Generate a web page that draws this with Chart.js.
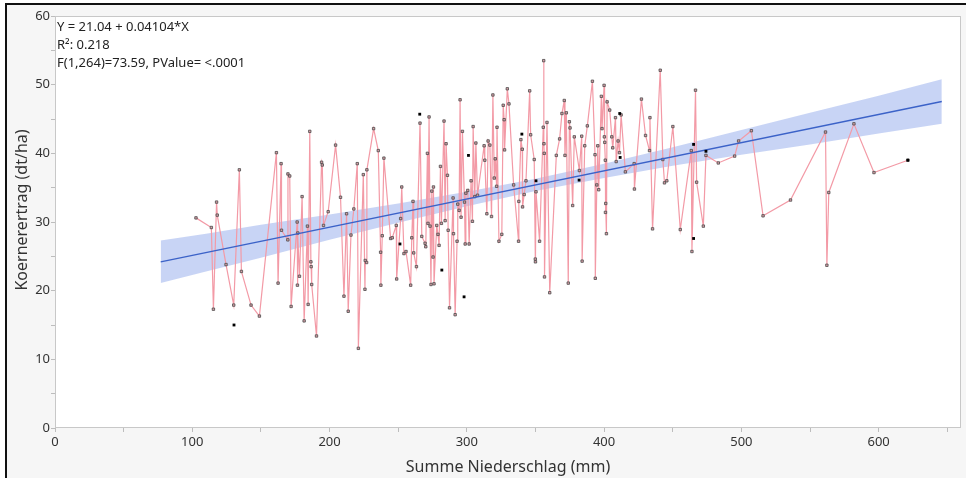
<!DOCTYPE html>
<html lang="de">
<head>
<meta charset="utf-8">
<title>Koernerertrag gegen Niederschlag</title>
<script src="https://cdn.jsdelivr.net/npm/chart.js@4.4.1/dist/chart.umd.min.js"></script>
<style>
  html, body { margin: 0; padding: 0; background: #ffffff; overflow: hidden; }
  #box { width: 966px; height: 478px; }
</style>
</head>
<body>
<div id="box"><canvas id="grafico" width="966" height="478"></canvas></div>
<script>
// Messwerte: Summe Niederschlag (mm) und Koernerertrag (dt/ha), nach X sortiert
var niederschlag = [
  102.7, 113.9, 115.4, 117.7, 118.2, 124.6, 130.2, 134.3, 135.8, 142.8,
  148.9, 161.3, 162.5, 164.7, 165.0, 169.6, 169.7, 171.0, 172.0, 176.4,
  176.6, 176.9, 178.1, 180.0, 181.5, 183.9, 184.4, 185.6, 186.4, 186.6,
  187.0, 190.5, 194.2, 194.7, 195.6, 199.0, 204.4, 208.0, 210.5, 212.4,
  213.6, 215.6, 217.7, 220.2, 221.0, 224.6, 225.8, 226.0, 227.0, 227.2,
  232.1, 235.5, 237.2, 237.4, 238.4, 239.6, 244.5, 245.7, 248.6, 248.9,
  251.8, 252.6, 254.2, 255.7, 259.1, 259.9, 260.8, 261.3, 263.3, 265.9,
  267.2, 269.6, 270.1, 271.3, 271.7, 272.5, 273.2, 273.9, 274.5, 275.4,
  275.7, 276.1, 278.1, 279.0, 279.8, 280.8, 281.5, 283.4, 284.2, 284.9,
  285.9, 286.4, 287.4, 290.0, 290.3, 291.5, 292.9, 293.4, 294.4, 295.1,
  295.8, 296.8, 298.3, 298.8, 299.3, 300.7, 301.7, 303.1, 304.1, 304.6,
  305.8, 306.6, 307.8, 312.6, 313.1, 314.6, 315.5, 316.8, 318.0, 319.0,
  320.0, 320.7, 321.7, 322.0, 323.4, 325.5, 326.5, 327.2, 327.5, 329.5,
  330.7, 334.1, 337.7, 337.9, 339.4, 340.4, 340.6, 341.8, 343.1, 345.8,
  346.5, 349.1, 349.9, 350.0, 350.4, 353.0, 355.7, 356.0, 356.2, 356.4,
  356.6, 358.4, 360.4, 365.2, 367.6, 369.3, 371.0, 371.5, 372.5, 373.9,
  374.7, 375.2, 377.1, 378.3, 382.0, 383.7, 384.0, 385.9, 387.8, 391.5,
  393.4, 393.6, 394.7, 395.4, 396.1, 398.0, 398.5, 400.0, 400.2, 400.5,
  400.9, 401.0, 401.2, 401.7, 402.2, 404.1, 405.6, 406.3, 408.3, 408.8,
  410.2, 411.2, 412.4, 415.5, 421.9, 422.1, 427.2, 430.2, 433.1, 433.4,
  435.3, 440.9, 442.8, 444.0, 445.7, 450.1, 455.5, 463.5, 464.0, 466.6,
  467.4, 472.3, 474.2, 483.2, 495.1, 498.0, 507.3, 515.8, 535.8, 561.3,
  562.3, 563.7, 582.0, 596.6, 621.3
];
var ertrag = [
  30.6, 29.2, 17.3, 32.9, 31.0, 23.8, 17.9, 37.6, 22.8, 17.9,
  16.3, 40.1, 21.1, 38.5, 28.8, 27.4, 37.0, 36.7, 17.7, 30.0,
  20.8, 28.4, 22.1, 33.7, 15.6, 29.4, 18.0, 43.2, 24.2, 23.5,
  20.9, 13.4, 38.7, 38.3, 29.5, 31.5, 41.2, 33.6, 19.2, 31.2,
  17.0, 28.1, 31.9, 38.5, 11.6, 36.9, 20.2, 24.4, 24.1, 37.6,
  43.6, 40.4, 25.6, 20.8, 28.0, 39.3, 27.6, 27.7, 29.5, 21.7,
  30.5, 35.1, 25.4, 25.7, 20.8, 27.7, 33.0, 25.5, 23.5, 44.4,
  27.9, 26.9, 26.4, 40.0, 29.8, 45.3, 29.4, 20.9, 34.5, 24.9,
  35.1, 21.0, 29.5, 28.2, 26.6, 38.1, 29.8, 44.7, 30.2, 41.4,
  36.8, 28.8, 17.5, 33.5, 28.3, 16.5, 27.2, 32.6, 31.7, 47.8,
  30.7, 43.2, 32.9, 26.8, 34.2, 34.6, 26.8, 36.0, 30.1, 43.9,
  33.7, 41.5, 33.9, 41.1, 39.0, 31.2, 41.8, 41.2, 30.8, 48.5,
  36.4, 39.2, 35.2, 43.8, 27.2, 28.2, 47.0, 44.9, 40.5, 49.4,
  47.2, 35.4, 27.2, 33.0, 42.0, 40.6, 32.2, 34.0, 36.0, 49.1,
  42.7, 39.1, 24.6, 24.2, 34.4, 27.2, 43.8, 53.5, 41.4, 40.0,
  22.0, 44.5, 19.7, 39.7, 42.1, 45.8, 47.7, 39.7, 45.9, 21.1,
  44.6, 43.7, 32.4, 42.4, 37.5, 42.5, 24.3, 41.1, 44.0, 50.5,
  39.8, 21.8, 35.4, 41.1, 34.7, 48.3, 43.6, 49.9, 42.4, 41.6,
  39.0, 31.4, 32.7, 28.3, 47.5, 46.3, 42.4, 40.8, 45.2, 38.8,
  41.8, 40.1, 45.6, 37.3, 38.5, 34.8, 47.9, 42.6, 40.4, 45.2,
  29.0, 52.1, 39.1, 35.7, 36.0, 43.9, 28.9, 40.4, 25.7, 49.2,
  35.8, 29.4, 39.7, 38.6, 39.6, 41.8, 43.3, 30.9, 33.2, 43.1,
  23.7, 34.3, 44.3, 37.2, 39.0
];

// schwarz markierte Punkte
var markiertX = [130.4, 251.3, 265.7, 281.8, 298.0, 301.2, 340.1, 350.4, 381.8, 411.4, 411.7, 465.2, 465.2, 474.2, 621.3];
var markiertY = [15.0, 26.8, 45.7, 23.0, 19.1, 39.7, 42.8, 36.0, 36.1, 45.8, 39.4, 41.3, 27.6, 40.3, 39.0];

// Regressionsgerade (Endpunkte) und Konfidenzband
var fitX = [77, 646];
var fitY = [24.2, 47.55];
var bandX = [77, 110, 150, 200, 250, 300, 350, 400, 450, 500, 550, 600, 646];
var bandOben = [27.3, 28.3, 29.6, 31.1, 32.7, 34.4, 36.3, 38.5, 40.9, 43.4, 45.9, 48.4, 50.8];
var bandUnten = [21.1, 22.8, 24.8, 27.4, 29.9, 32.3, 34.5, 36.4, 38.2, 39.8, 41.3, 42.9, 44.3];

// Achsen
var xTicks = [0, 100, 200, 300, 400, 500, 600];
var yTicks = [0, 10, 20, 30, 40, 50, 60];
var xTitel = "Summe Niederschlag (mm)";
var yTitel = "Koernerertrag (dt/ha)";
var statistik = ["Y = 21.04 + 0.04104*X", "R\u00b2: 0.218", "F(1,264)=73.59, PValue= <.0001"];

var schrift = "'Noto Sans', 'Open Sans', sans-serif";

// Hilfsfunktion: zwei Listen zu Punkten
function paare(xs, ys) {
  var punkte = [];
  for (var i = 0; i < xs.length; i++) {
    punkte.push({ x: xs[i], y: ys[i] });
  }
  return punkte;
}

// Hintergrund, Rahmen und Plotflaeche
var hintergrund = {
  id: "hintergrund",
  beforeDraw: function (chart) {
    var ctx = chart.ctx;
    var a = chart.chartArea;
    ctx.save();
    ctx.fillStyle = "#ffffff";
    ctx.fillRect(0, 0, chart.width, chart.height);
    ctx.fillStyle = "#f6f6f6";
    ctx.fillRect(7, 5, chart.width - 7, chart.height - 5);
    ctx.fillStyle = "#111111";
    ctx.fillRect(5, 3, 2, chart.height - 3);
    ctx.fillRect(5, 3, chart.width - 5, 2);
    ctx.fillStyle = "#ffffff";
    ctx.fillRect(a.left, a.top, a.right - a.left, a.bottom - a.top);
    ctx.restore();
  },
  afterDraw: function (chart) {
    var ctx = chart.ctx;
    var a = chart.chartArea;
    ctx.save();
    ctx.strokeStyle = "#c8c8c8";
    ctx.lineWidth = 1;
    ctx.strokeRect(a.left + 0.5, a.top + 0.5, a.right - a.left - 1, a.bottom - a.top - 1);

    // Statistik oben links
    ctx.fillStyle = "#222222";
    ctx.font = "13px " + schrift;
    ctx.textAlign = "left";
    ctx.textBaseline = "middle";
    for (var i = 0; i < statistik.length; i++) {
      ctx.fillText(statistik[i], a.left + 2, 27 + i * 18);
    }

    // Achsentitel
    ctx.fillStyle = "#333333";
    ctx.font = "16px " + schrift;
    ctx.textAlign = "center";
    ctx.fillText(xTitel, (a.left + a.right) / 2, 467);
    ctx.translate(22, 210);
    ctx.rotate(-Math.PI / 2);
    ctx.fillText(yTitel, 0, 0);
    ctx.restore();
  }
};

var ctx = document.getElementById("grafico").getContext("2d");
var grafico = new Chart(ctx, {
  type: "scatter",
  data: {
    datasets: [
      {
        label: "Band oben",
        data: paare(bandX, bandOben),
        showLine: true,
        borderWidth: 0,
        borderColor: "rgba(0,0,0,0)",
        pointRadius: 0,
        fill: false,
        order: 4
      },
      {
        label: "Band unten",
        data: paare(bandX, bandUnten),
        showLine: true,
        borderWidth: 0,
        borderColor: "rgba(0,0,0,0)",
        backgroundColor: "rgba(118, 148, 230, 0.4)",
        pointRadius: 0,
        fill: "-1",
        order: 4
      },
      {
        label: "Koernerertrag",
        data: paare(niederschlag, ertrag),
        showLine: true,
        borderColor: "#f39aa6",
        borderWidth: 1.2,
        pointStyle: "rect",
        pointRadius: 1.7,
        pointBorderWidth: 0.8,
        pointBorderColor: "#4a4a4a",
        pointBackgroundColor: "#d9a0a8",
        order: 2
      },
      {
        label: "Anpassung",
        data: paare(fitX, fitY),
        showLine: true,
        borderColor: "#3b62c8",
        borderWidth: 1.3,
        pointRadius: 0,
        order: 1
      },
      {
        label: "markiert",
        data: paare(markiertX, markiertY),
        showLine: false,
        pointStyle: "rect",
        pointRadius: 2.0,
        pointBorderWidth: 0,
        pointBackgroundColor: "#000000",
        order: 0
      }
    ]
  },
  options: {
    responsive: false,
    animation: false,
    devicePixelRatio: 1,
    layout: { padding: { left: 0, top: 16, right: 5, bottom: 0 } },
    plugins: {
      legend: { display: false },
      tooltip: { enabled: false }
    },
    scales: {
      x: {
        type: "linear",
        min: 0,
        max: 660,
        afterFit: function (scale) { scale.height = 50; },
        grid: { drawOnChartArea: false, drawTicks: true, tickLength: 4, color: "#bdbdbd" },
        border: { display: false },
        ticks: {
          stepSize: 50,
          includeBounds: false,
          autoSkip: false,
          maxRotation: 0,
          padding: 2,
          color: "#333333",
          font: { family: schrift, size: 13 },
          callback: function (v) { return xTicks.indexOf(v) >= 0 ? String(v) : ""; }
        }
      },
      y: {
        type: "linear",
        min: 0,
        max: 60,
        afterFit: function (scale) { scale.width = 55; },
        grid: { drawOnChartArea: false, drawTicks: true, tickLength: 4, color: "#bdbdbd" },
        border: { display: false },
        ticks: {
          stepSize: 5,
          autoSkip: false,
          padding: 1,
          color: "#333333",
          font: { family: schrift, size: 13 },
          callback: function (v) { return yTicks.indexOf(v) >= 0 ? String(v) : ""; }
        }
      }
    }
  },
  plugins: [hintergrund]
});
</script>
</body>
</html>
